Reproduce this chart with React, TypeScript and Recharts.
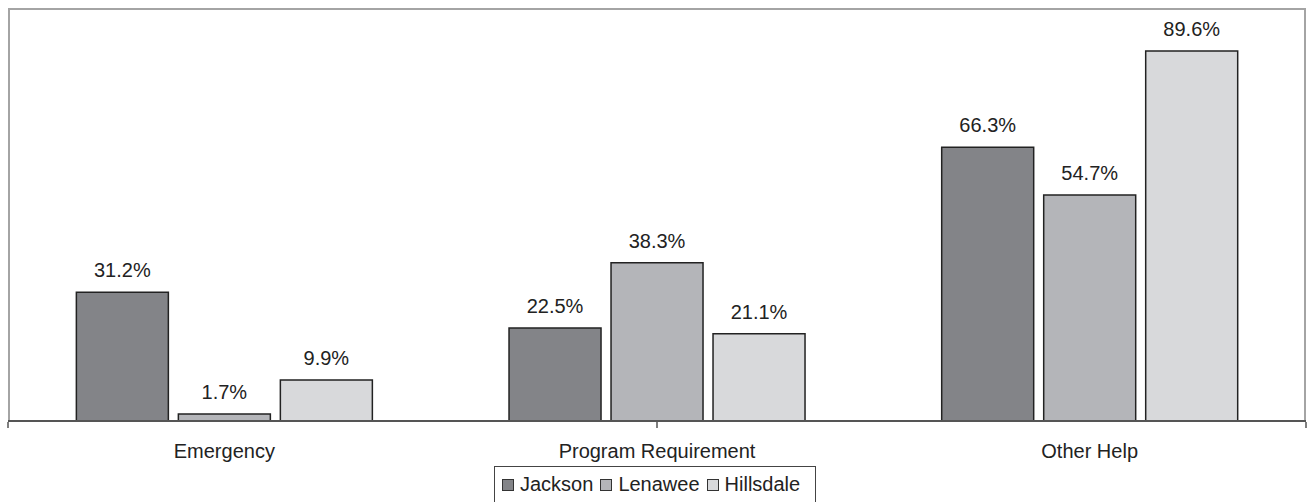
import React from 'react';
import { BarChart, Bar, XAxis, YAxis, LabelList, Legend } from 'recharts';

const categories = ['Emergency', 'Program Requirement', 'Other Help'];
const jackson = [31.2, 22.5, 66.3];
const lenawee = [1.7, 38.3, 54.7];
const hillsdale = [9.9, 21.1, 89.6];
const seriesNames = ['Jackson', 'Lenawee', 'Hillsdale'];
const seriesColors = ['#838488', '#b4b5b9', '#d8d9db'];
const boundaryTicks = [0, 1, 2, 3];

const data = categories.map((c, i) => ({
  name: c,
  Jackson: jackson[i],
  Lenawee: lenawee[i],
  Hillsdale: hillsdale[i],
}));

const FONT = '"Liberation Sans", Arial, sans-serif';

const fmt = (v: any) => `${Number(v).toFixed(1)}%`;

const EmptyTick = () => <g />;

const LegendContent = () => (
  <div
    style={{
      border: '1.5px solid #444',
      height: 40,
      width: 322,
      boxSizing: 'border-box',
      display: 'flex',
      alignItems: 'flex-start',
      paddingTop: 6,
      paddingLeft: 7,
      fontFamily: FONT,
      fontSize: 20,
      color: '#222',
      background: '#fff',
    }}
  >
    {seriesNames.map((n, i) => (
      <div key={n} style={{ display: 'flex', alignItems: 'center', marginRight: i < 2 ? 7 : 0 }}>
        <span
          style={{
            display: 'inline-block',
            width: 10,
            height: 10,
            border: '1px solid #333',
            background: seriesColors[i],
            marginRight: 6,
          }}
        />
        <span>{n}</span>
      </div>
    ))}
  </div>
);

export default function App() {
  return (
    <div style={{ position: 'absolute', left: 0, top: 0, width: 1311, height: 502, background: '#fff', overflow: 'hidden' }}>
      <div
        style={{
          position: 'absolute',
          left: 8,
          top: 8,
          width: 1298,
          height: 413,
          borderTop: '2px solid #a4a4a4',
          borderLeft: '2px solid #a4a4a4',
          borderRight: '2px solid #a4a4a4',
          boxSizing: 'border-box',
        }}
      />
      <BarChart
        width={1311}
        height={502}
        data={data}
        margin={{ top: 8, left: 8, right: 5, bottom: 79 }}
        barCategoryGap="15.8%"
        barGap={10}
        style={{ position: 'absolute', left: 0, top: 0 }}
      >
        <YAxis hide domain={[0, 100]} />
        <XAxis
          xAxisId="cat"
          dataKey="name"
          height={1}
          tickSize={0}
          tickMargin={23}
          axisLine={{ stroke: '#555', strokeWidth: 2 }}
          tick={{ fill: '#222', fontSize: 20, fontFamily: FONT }}
          interval={0}
        />
        <XAxis
          xAxisId="edge"
          type="number"
          domain={[0, 3]}
          ticks={boundaryTicks}
          interval={0}
          allowDataOverflow
          height={1}
          tickSize={6}
          tick={EmptyTick}
          axisLine={false}
          tickLine={{ stroke: '#555', strokeWidth: 1.5 }}
        />
        {seriesNames.map((n, i) => (
          <Bar
            key={n}
            xAxisId="cat"
            dataKey={n}
            fill={seriesColors[i]}
            stroke="#222"
            strokeWidth={1.5}
            isAnimationActive={false}
          >
            <LabelList
              dataKey={n}
              position="top"
              offset={15}
              formatter={fmt}
              style={{ fill: '#222', fontSize: 20, fontFamily: FONT }}
            />
          </Bar>
        ))}
        <Legend
          verticalAlign="middle"
          align="center"
          content={<LegendContent />}
          wrapperStyle={{ position: 'absolute', top: 466, left: 494, width: 322, height: 40 }}
        />
      </BarChart>
    </div>
  );
}
